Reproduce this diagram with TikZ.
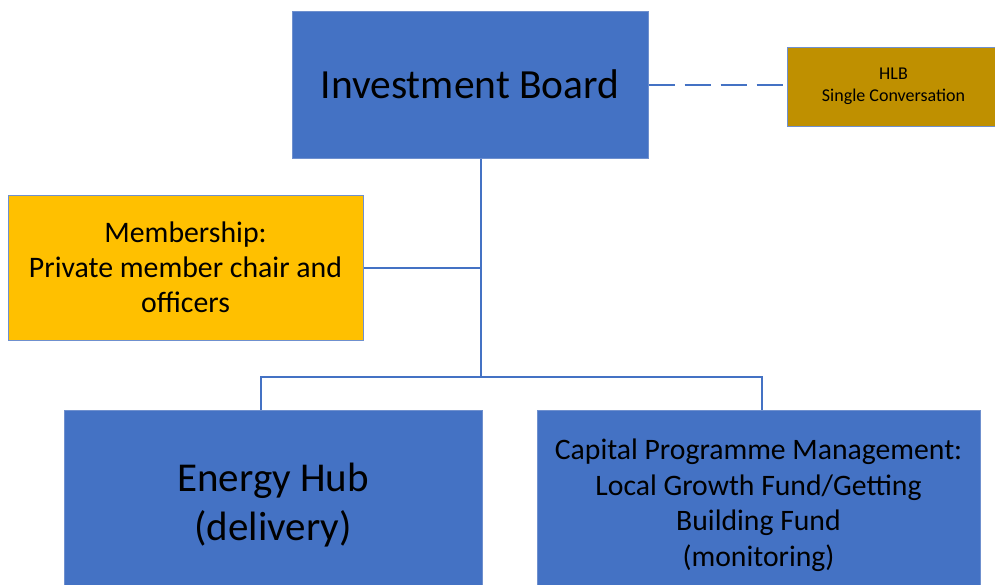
\documentclass[tikz,border=0pt]{standalone}
\usepackage{fontspec}
\setmainfont{Carlito}
\definecolor{boardblue}{HTML}{4472C4}
\definecolor{edgeblue}{HTML}{6F90CE}
\definecolor{hlbgold}{HTML}{BF9000}
\definecolor{membergold}{HTML}{FFC000}
\tikzset{
  orgbox/.style={draw=edgeblue, line width=1pt, align=center, text=black, inner sep=0pt},
  link/.style={draw=boardblue, line width=2pt}
}

\begin{document}
\begin{tikzpicture}[x=1pt,y=-1pt]
\useasboundingbox (0,0) rectangle (995,584);
\clip (0,0) rectangle (995,584);
\node [orgbox, fill=boardblue, minimum width=356pt, minimum height=147pt, font=\fontsize{41.5}{48}\selectfont] (board) at (470,84.5) {Investment Board};
\node [orgbox, fill=hlbgold, minimum width=213pt, minimum height=79pt, font=\fontsize{18}{22}\selectfont] (hlb) at (893.5,86.5) {HLB\\Single Conversation};
\node [orgbox, fill=membergold, minimum width=355pt, minimum height=145pt, font=\fontsize{29.8}{35}\selectfont] (member) at (185.5,267.5) {Membership:\\Private member chair and\\officers};
\node [orgbox, fill=boardblue, minimum width=418pt, minimum height=190pt, font=\fontsize{41}{49}\selectfont] (hub) at (273,505) {Energy Hub\\(delivery)};
\node [orgbox, fill=boardblue, minimum width=443pt, minimum height=190pt, font=\fontsize{29.7}{35.5}\selectfont] (capital) at (758.5,505) {Capital Programme Management:\\Local Growth Fund/Getting\\Building Fund\\(monitoring)};
\coordinate (bus) at (481,377);
\draw [link] ([xshift=11pt]board.south) -- (bus);
\draw [link] (member.east) -- ([xshift=11pt]board.south |- member.east);
\draw [link, dash pattern=on 26pt off 10pt] (board.east) -- (board.east -| hlb.west);
\draw [link] (bus) -| ([xshift=-12pt]hub.north);
\draw [link] (bus) -| ([xshift=3.5pt]capital.north);
\end{tikzpicture}
\end{document}
